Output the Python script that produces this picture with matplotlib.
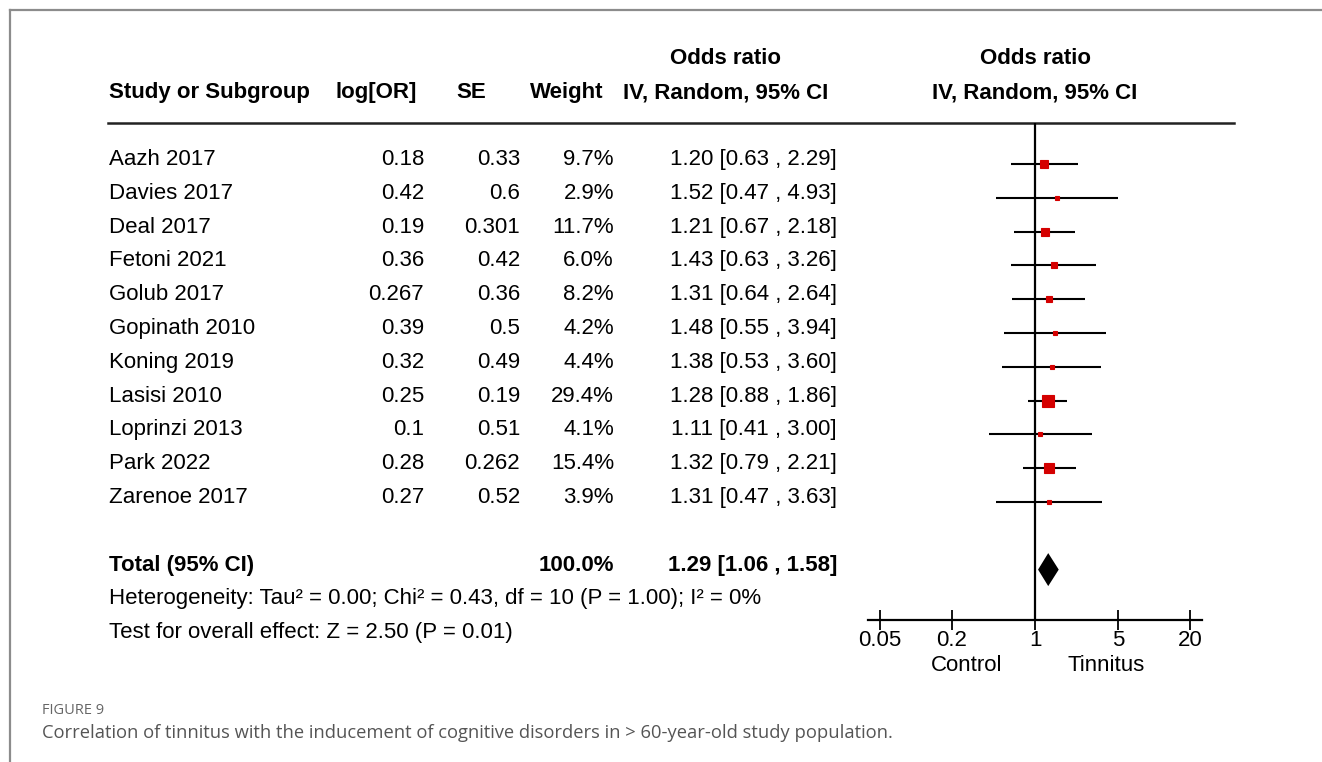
import matplotlib
matplotlib.use("Agg")
import matplotlib.pyplot as plt
import numpy as np

studies = ["Aazh 2017", "Davies 2017", "Deal 2017", "Fetoni 2021", "Golub 2017",
           "Gopinath 2010", "Koning 2019", "Lasisi 2010", "Loprinzi 2013",
           "Park 2022", "Zarenoe 2017"]
log_or = [0.18, 0.42, 0.19, 0.36, 0.267, 0.39, 0.32, 0.25, 0.1, 0.28, 0.27]
se = [0.33, 0.6, 0.301, 0.42, 0.36, 0.5, 0.49, 0.19, 0.51, 0.262, 0.52]
weight = [9.7, 2.9, 11.7, 6.0, 8.2, 4.2, 4.4, 29.4, 4.1, 15.4, 3.9]
odds = [1.20, 1.52, 1.21, 1.43, 1.31, 1.48, 1.38, 1.28, 1.11, 1.32, 1.31]
ci_lo = [0.63, 0.47, 0.67, 0.63, 0.64, 0.55, 0.53, 0.88, 0.41, 0.79, 0.47]
ci_hi = [2.29, 4.93, 2.18, 3.26, 2.64, 3.94, 3.60, 1.86, 3.00, 2.21, 3.63]
total_weight = 100.0
total_or, total_lo, total_hi = 1.29, 1.06, 1.58
ticks = [0.05, 0.2, 1, 5, 20]

W, H = 1322, 762
plt.rcParams["font.family"] = ["Liberation Sans", "DejaVu Sans"]
fig = plt.figure(figsize=(W / 100, H / 100), dpi=100)

# text layer in pixel coordinates
tx = fig.add_axes([0, 0, 1, 1])
tx.set_xlim(0, W)
tx.set_ylim(H, 0)
tx.axis("off")

fs = 16
dy = 2.5  # text nudge so glyph centres sit on the rows
row_y = lambda i: 157 + 33.8 * i
mark_y = lambda i: row_y(i) + 7


def put(x, y, s, ha="left", bold=False, **kw):
    tx.text(x, y + dy, s, ha=ha, va="center", fontsize=kw.pop("size", fs),
            fontweight="bold" if bold else "normal", **kw)


# frame
tx.plot([10, W], [10, 10], color="#8c8c8c", lw=1.6)
tx.plot([10, 10], [10, H], color="#8c8c8c", lw=1.6)

# headers
put(726, 56, "Odds ratio", ha="center", bold=True)
put(1035, 56, "Odds ratio", ha="center", bold=True)
put(109, 90, "Study or Subgroup", bold=True)
put(376, 90, "log[OR]", ha="center", bold=True)
put(471, 90, "SE", ha="center", bold=True)
put(567, 90, "Weight", ha="center", bold=True)
put(726, 90, "IV, Random, 95% CI", ha="center", bold=True)
put(1035, 90, "IV, Random, 95% CI", ha="center", bold=True)
tx.plot([108, 1234], [123, 123], color="#222222", lw=1.8)

for i, name in enumerate(studies):
    y = row_y(i)
    put(109, y, name)
    put(424, y, str(log_or[i]), ha="right")
    put(520, y, str(se[i]), ha="right")
    put(614, y, f"{weight[i]:.1f}%", ha="right")
    put(837, y, f"{odds[i]:.2f} [{ci_lo[i]:.2f} , {ci_hi[i]:.2f}]", ha="right")

yt = row_y(12)
put(109, yt, "Total (95% CI)", bold=True)
put(614, yt, f"{total_weight:.1f}%", ha="right", bold=True)
put(837, yt, f"{total_or:.2f} [{total_lo:.2f} , {total_hi:.2f}]", ha="right", bold=True)
put(109, row_y(13), "Heterogeneity: Tau² = 0.00; Chi² = 0.43, df = 10 (P = 1.00); I² = 0%")
put(109, row_y(14), "Test for overall effect: Z = 2.50 (P = 0.01)")

put(967, 663, "Control", ha="center")
put(1106, 663, "Tinnitus", ha="center")

# caption
cap_font = ["Open Sans", "DejaVu Sans"]
put(42, 708, "FIGURE 9", size=10.5, color="#666666", family=cap_font)
put(42, 730, "Correlation of tinnitus with the inducement of cognitive disorders in > 60-year-old study population.",
    size=13.2, color="#555555", family=cap_font)

# forest plot axes
x0, x1, ytop, ybot = 868, 1202, 123, 620
ax = fig.add_axes([x0 / W, 1 - ybot / H, (x1 - x0) / W, (ybot - ytop) / H])
ax.patch.set_alpha(0)
ax.set_xscale("log")
ax.set_xlim(0.0396, 25.2)
ax.set_ylim(ybot, ytop)
for s in ["top", "left", "right"]:
    ax.spines[s].set_visible(False)
ax.spines["bottom"].set_linewidth(1.6)
ax.set_xticks(ticks)
ax.set_xticklabels([str(t) for t in ticks], fontsize=fs)
ax.minorticks_off()
ax.tick_params(axis="x", direction="inout", length=14, width=1.3, pad=0)
ax.set_yticks([])
ax.axvline(1, color="black", lw=1.6)

for i in range(len(studies)):
    y = mark_y(i)
    ax.hlines(y, ci_lo[i], ci_hi[i], color="black", lw=1.5)
    side = max(5, 2.3 * np.sqrt(weight[i]))
    ax.plot(odds[i], y, marker="s", color="#d40000", markersize=side * 0.72,
            markeredgewidth=0.8, markeredgecolor="#d40000", linestyle="none")

yt = mark_y(12)
dh = 16.5
ax.fill([total_lo, total_or, total_hi, total_or], [yt, yt - dh, yt, yt + dh],
        color="black", lw=0)

fig.savefig("out.png", dpi=100)
